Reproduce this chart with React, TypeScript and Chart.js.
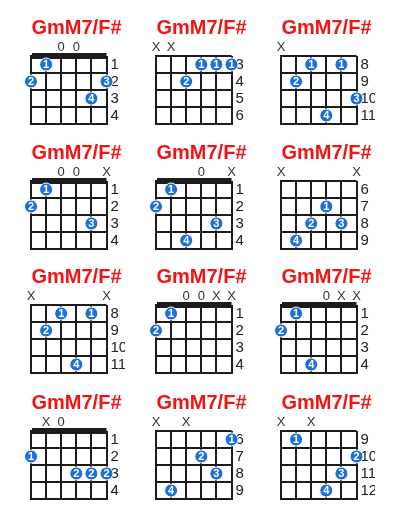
import React, {useEffect, useRef} from 'react';
import {Chart, registerables} from 'chart.js';

Chart.register(...registerables);

const chordName = 'GmM7/F#';
const stringNumbers = [1, 2, 3, 4, 5, 6];
const fretRows = [0, 1, 2, 3];

// low E -> high e, -1 = muted, 0 = open
const chordFrets = [
    [2, 1, 0, 0, 3, 2],
    [-1, -1, 4, 3, 3, 3],
    [-1, 9, 8, 11, 8, 10],
    [2, 1, 0, 0, 3, -1],
    [2, 1, 4, 0, 3, -1],
    [-1, 9, 8, 7, 8, -1],
    [-1, 9, 8, 11, 8, -1],
    [2, 1, 0, 0, -1, -1],
    [2, 1, 4, 0, -1, -1],
    [2, -1, 0, 3, 3, 3],
    [-1, 9, -1, 7, 8, 6],
    [-1, 9, -1, 12, 11, 10],
];
const chordFingers = [
    [2, 1, 0, 0, 4, 3],
    [0, 0, 2, 1, 1, 1],
    [0, 2, 1, 4, 1, 3],
    [2, 1, 0, 0, 3, 0],
    [2, 1, 4, 0, 3, 0],
    [0, 4, 2, 1, 3, 0],
    [0, 2, 1, 4, 1, 0],
    [2, 1, 0, 0, 0, 0],
    [2, 1, 4, 0, 0, 0],
    [1, 0, 0, 2, 2, 2],
    [0, 4, 0, 2, 3, 1],
    [0, 1, 0, 4, 3, 2],
];
const startFrets = [1, 3, 8, 1, 1, 6, 8, 1, 1, 1, 6, 9];

const colLefts = [0, 125, 250];
const rowTops = [1, 126, 250, 376];
const FONT = '"Liberation Sans", Arial, sans-serif';
const LINE = '#1c1c1c';

const ChordChart: React.FC<{index: number}> = ({index}) => {
    const canvasRef = useRef<HTMLCanvasElement | null>(null);

    useEffect(() => {
        if (!canvasRef.current) return;
        const frets = chordFrets[index];
        const fingers = chordFingers[index];
        const start = startFrets[index];

        const points: {x: number; y: number}[] = [];
        const labels: number[] = [];
        frets.forEach((f, i) => {
            if (f > 0) {
                points.push({x: stringNumbers[i], y: f - start + 0.5});
                labels.push(fingers[i]);
            }
        });

        const textPlugin = {
            id: 'chordText',
            beforeDatasetsDraw(chart: any) {
                const {ctx, chartArea, scales} = chart;
                ctx.save();
                ctx.textAlign = 'center';
                ctx.textBaseline = 'middle';
                ctx.fillStyle = '#f01414';
                ctx.font = `bold 20px ${FONT}`;
                ctx.fillText(chordName, chartArea.left + 45.5, chartArea.top - 28);

                ctx.font = `13px ${FONT}`;
                ctx.fillStyle = '#333';
                frets.forEach((f, i) => {
                    if (f > 0) return;
                    ctx.fillText(f < 0 ? 'X' : '0', scales.x.getPixelForValue(stringNumbers[i]), chartArea.top - 9);
                });

                ctx.textAlign = 'left';
                ctx.font = `15px ${FONT}`;
                ctx.fillStyle = '#222';
                fretRows.forEach((r) => {
                    ctx.fillText(String(start + r), chartArea.right + 4, scales.y.getPixelForValue(r + 0.5));
                });
                ctx.restore();
            },
            afterDatasetsDraw(chart: any) {
                const {ctx} = chart;
                const meta = chart.getDatasetMeta(0);
                ctx.save();
                ctx.textAlign = 'center';
                ctx.textBaseline = 'middle';
                ctx.fillStyle = '#fff';
                ctx.font = `bold 11px ${FONT}`;
                meta.data.forEach((pt: any, i: number) => {
                    ctx.fillText(String(labels[i]), pt.x, pt.y + 0.5);
                });
                ctx.restore();
            },
        };

        const chart = new Chart(canvasRef.current, {
            type: 'scatter',
            data: {
                datasets: [{
                    data: points,
                    pointRadius: 6.5,
                    pointBackgroundColor: '#1a6fd9',
                    pointBorderColor: '#fff',
                    pointBorderWidth: 1,
                    clip: false as any,
                }],
            },
            options: {
                responsive: false,
                animation: false,
                events: [],
                layout: {autoPadding: false, padding: {left: 31, right: 18.5, top: 55, bottom: 2}},
                plugins: {legend: {display: false}, tooltip: {enabled: false}},
                scales: {
                    x: {
                        type: 'linear',
                        min: 1,
                        max: 6,
                        ticks: {display: false, stepSize: 1},
                        grid: {color: LINE, lineWidth: 2, drawTicks: false},
                        border: {color: LINE, width: 2},
                        afterFit: (s: any) => {
                            s.height = 0;
                        },
                    },
                    y: {
                        type: 'linear',
                        min: 0,
                        max: 4,
                        reverse: true,
                        ticks: {display: false, stepSize: 1},
                        grid: {
                            color: LINE,
                            drawTicks: false,
                            lineWidth: (c: any) => (start === 1 && c.tick && c.tick.value === 0 ? 6 : 2),
                        },
                        border: {color: LINE, width: 2},
                        afterFit: (s: any) => {
                            s.width = 0;
                        },
                    },
                },
            },
            plugins: [textPlugin],
        });

        return () => chart.destroy();
    }, [index]);

    return (
        <canvas
            ref={canvasRef}
            width={125}
            height={125}
            style={{
                position: 'absolute',
                left: colLefts[index % 3],
                top: rowTops[Math.floor(index / 3)],
                width: 125,
                height: 125,
            }}
        />
    );
};

const App: React.FC = () => {
    return (
        <div style={{position: 'absolute', left: 0, top: 0, width: 400, height: 520, background: '#fff'}}>
            {startFrets.map((_, i) => (
                <ChordChart key={i} index={i}/>
            ))}
        </div>
    );
};

export default App;
